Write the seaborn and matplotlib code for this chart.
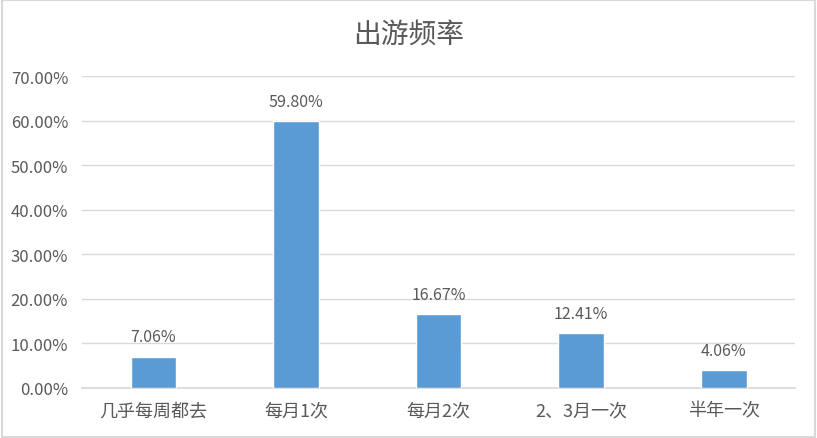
import matplotlib
matplotlib.use("Agg")
import matplotlib.pyplot as plt
import seaborn as sns
import pandas as pd
from matplotlib.patches import Rectangle
from matplotlib.ticker import PercentFormatter

categories = ["几乎每周都去", "每月1次", "每月2次", "2、3月一次", "半年一次"]
values = [7.06, 59.80, 16.67, 12.41, 4.06]
y_ticks = [0, 10, 20, 30, 40, 50, 60, 70]

df = pd.DataFrame({"category": categories, "value": values})

sns.set_theme(style="white")
plt.rcParams['font.family'] = ['Noto Sans CJK SC', 'DejaVu Sans']

text_color = "#595959"
grid_color = "#d9d9d9"

fig = plt.figure(figsize=(8.17, 4.39), dpi=100)
ax = fig.add_axes([0.1004, 0.1139, 0.8727, 0.7107])

sns.barplot(data=df, x="category", y="value", color="#5b9bd5", width=0.32,
            saturation=1, ax=ax, zorder=3)

ax.set_ylim(0, 70)
ax.set_yticks(y_ticks)
ax.yaxis.set_major_formatter(PercentFormatter(decimals=2))
ax.grid(axis="y", color=grid_color, linewidth=1, zorder=0)
ax.set_xlabel("")
ax.set_ylabel("")
for side in ["top", "right", "left"]:
    ax.spines[side].set_visible(False)
ax.spines["bottom"].set_color(grid_color)
ax.tick_params(axis="y", length=0, labelsize=12, colors=text_color, pad=10)
ax.tick_params(axis="x", length=0, labelsize=13, colors=text_color, pad=10)

for i, v in enumerate(values):
    ax.annotate(f"{v:.2f}%", (i, v), xytext=(0, 8), textcoords="offset points",
                ha="center", va="bottom", fontsize=11.5, color=text_color)

fig.text(0.5, 0.922, "出游频率", ha="center", va="center", fontsize=20,
         fontweight="medium", color=text_color)

fig.patches.append(Rectangle((0.002, 0.003), 0.996, 0.994, transform=fig.transFigure,
                             fill=False, edgecolor=grid_color, linewidth=1.5))

fig.savefig("out.png", dpi=100)
